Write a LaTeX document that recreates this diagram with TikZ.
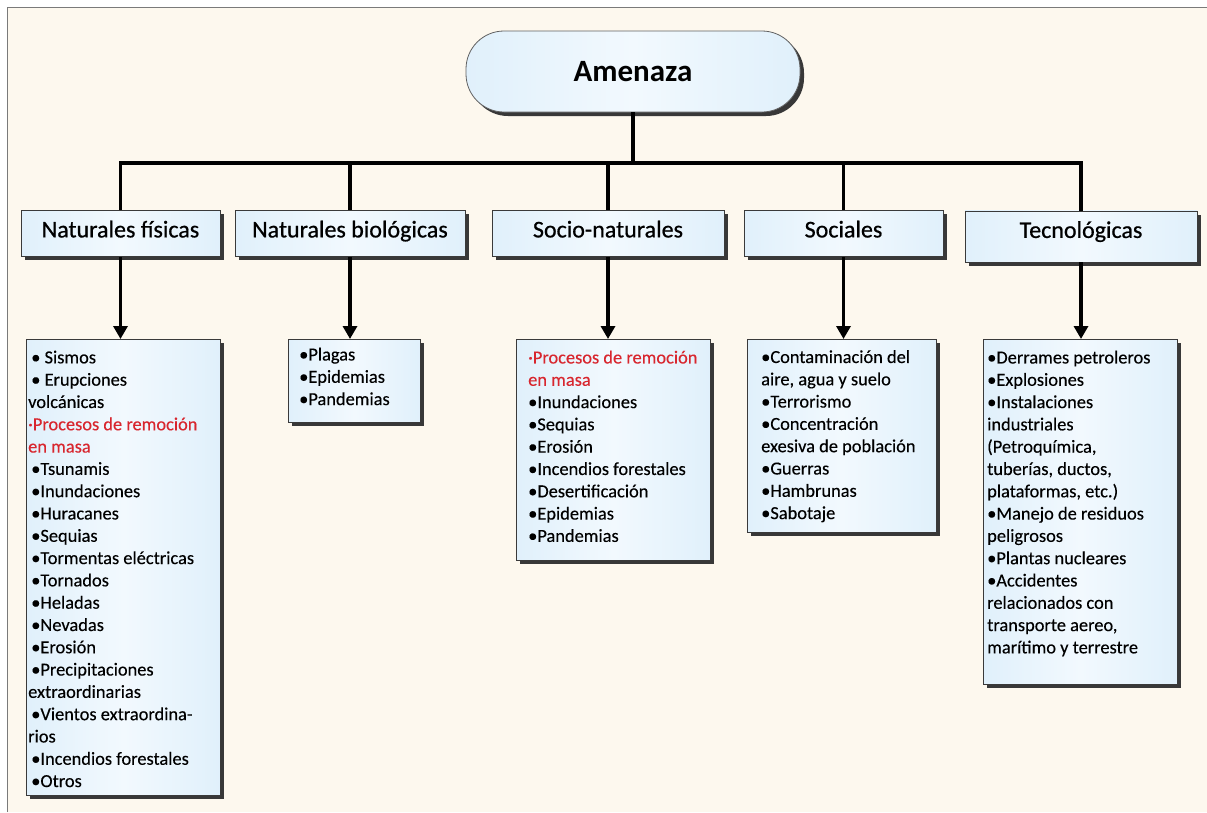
\documentclass[tikz,border=0pt]{standalone}
\usepackage{fontspec}
\setmainfont{Carlito}
\newfontfamily\headfont[FakeBold=0.7]{Carlito}
\newfontfamily\itemfont[FakeBold=0.25]{Carlito}
\usetikzlibrary{arrows.meta,shadows}
\definecolor{paper}{HTML}{FDF8EE}
\definecolor{frameline}{HTML}{7A7A7A}
\definecolor{boxedge}{HTML}{3A3A3A}
\definecolor{skyside}{HTML}{E0F0FB}
\definecolor{skymid}{HTML}{F2F9FE}
\definecolor{alert}{HTML}{D8262E}
\tikzset{
  boxshadow/.style={drop shadow={shadow xshift=4pt,shadow yshift=-4pt,fill=black!78,opacity=1}},
  skyfill/.style={left color=skyside,right color=skyside,middle color=skymid},
  pill/.style={draw=boxedge!80,line width=0.8pt,skyfill,boxshadow,rounded corners=38pt,
    minimum width=334pt,minimum height=81pt,inner sep=0pt,font=\bfseries\fontsize{31}{36}\selectfont},
  catbox/.style={draw=boxedge,line width=0.8pt,skyfill,boxshadow,rectangle,inner xsep=0pt,
    inner ysep=12pt,text height=15pt,text depth=7pt,font=\headfont\fontsize{24}{28}\selectfont},
  listbox/.style={draw=boxedge,line width=0.8pt,skyfill,boxshadow,rectangle,inner sep=0pt},
  listtext/.style={anchor=north west,inner sep=0pt,align=left,font=\itemfont\fontsize{18.4}{22.3}\selectfont},
  link/.style={line width=3.5pt},
  drop/.style={line width=3.5pt,-{Triangle[length=13pt,width=14pt]}},
}
\begin{document}
\begin{tikzpicture}[x=1pt,y=-1pt]
\useasboundingbox (0,0) rectangle (1207,812);
% page and frame
\fill[white] (0,0) rectangle (1207,812);
\fill[paper] (7,7) rectangle (1207,812);
\draw[frameline,line width=1pt] (7,812) -- (7,7) -- (1207,7);

% root
\node[pill] (top) at (633,71.5) {Amenaza};

% categories
\node[catbox,minimum width=199pt,anchor=north] (c1) at (120.5,210) {Naturales físicas};
\node[catbox,minimum width=230pt,anchor=north] (c2) at (350,210) {Naturales biológicas};
\node[catbox,minimum width=232pt,anchor=north] (c3) at (608,210) {Socio-naturales};
\node[catbox,minimum width=199pt,anchor=north] (c4) at (843.5,210) {Sociales};
\node[catbox,minimum width=232pt,anchor=north,text depth=12pt] (c5) at (1081,210.5) {Tecnológicas};

% tree connectors
\coordinate (bar) at (632,163);
\draw[link] (top.south) -- (top.south |- bar);
\draw[link] (c1.north) -- (c1.north |- bar) -- (c5.north |- bar) -- (c5.north);
\draw[link] (c2.north) -- (c2.north |- bar);
\draw[link] (c3.north) -- (c3.north |- bar);
\draw[link] (c4.north) -- (c4.north |- bar);

% lists
\node[listbox,minimum width=194pt,minimum height=456pt,anchor=north west] (l1) at (26,339) {};
\node[listbox,minimum width=132pt,minimum height=83pt,anchor=north west] (l2) at (288,339) {};
\node[listbox,minimum width=194pt,minimum height=221pt,anchor=north west] (l3) at (516,339) {};
\node[listbox,minimum width=189pt,minimum height=193pt,anchor=north west] (l4) at (747,339) {};
\node[listbox,minimum width=194pt,minimum height=345pt,anchor=north west] (l5) at (983,339) {};

\node[listtext] (t1) at ([xshift=2pt,yshift=-11.5pt]l1.north west) {%
  \,• Sismos\\
  \,• Erupciones\\
  volcánicas\\
  {\color{alert}·Procesos de remoción}\\
  {\color{alert}en masa}\\
  \,•Tsunamis\\
  \,•Inundaciones\\
  \,•Huracanes\\
  \,•Sequias\\
  \,•Tormentas eléctricas\\
  \,•Tornados\\
  \,•Heladas\\
  \,•Nevadas\\
  \,•Erosión\\
  \,•Precipitaciones\\
  extraordinarias\\
  \,•Vientos extraordina-\\
  rios\\
  \,•Incendios forestales\\
  \,•Otros};
\node[listtext] (t2) at ([xshift=11pt,yshift=-8.5pt]l2.north west) {%
  •Plagas\\
  •Epidemias\\
  •Pandemias};
\node[listtext] (t3) at ([xshift=12pt,yshift=-11.5pt]l3.north west) {%
  {\color{alert}·Procesos de remoción}\\
  {\color{alert}en masa}\\
  •Inundaciones\\
  •Sequias\\
  •Erosión\\
  •Incendios forestales\\
  •Desertificación\\
  •Epidemias\\
  •Pandemias};
\node[listtext] (t4) at ([xshift=14pt,yshift=-11pt]l4.north west) {%
  •Contaminación del\\
  aire, agua y suelo\\
  •Terrorismo\\
  •Concentración\\
  exesiva de población\\
  •Guerras\\
  •Hambrunas\\
  •Sabotaje};
\node[listtext] (t5) at ([xshift=4pt,yshift=-11.5pt]l5.north west) {%
  •Derrames petroleros\\
  •Explosiones\\
  •Instalaciones\\
  industriales\\
  (Petroquímica,\\
  tuberías, ductos,\\
  plataformas, etc.)\\
  •Manejo de residuos\\
  peligrosos\\
  •Plantas nucleares\\
  •Accidentes\\
  relacionados con\\
  transporte aereo,\\
  marítimo y terrestre};

% arrows into the lists
\draw[drop] (c1.south) -- (c1.south |- l1.north);
\draw[drop] (c2.south) -- (c2.south |- l2.north);
\draw[drop] (c3.south) -- (c3.south |- l3.north);
\draw[drop] (c4.south) -- (c4.south |- l4.north);
\draw[drop] (c5.south) -- (c5.south |- l5.north);
\end{tikzpicture}
\end{document}
